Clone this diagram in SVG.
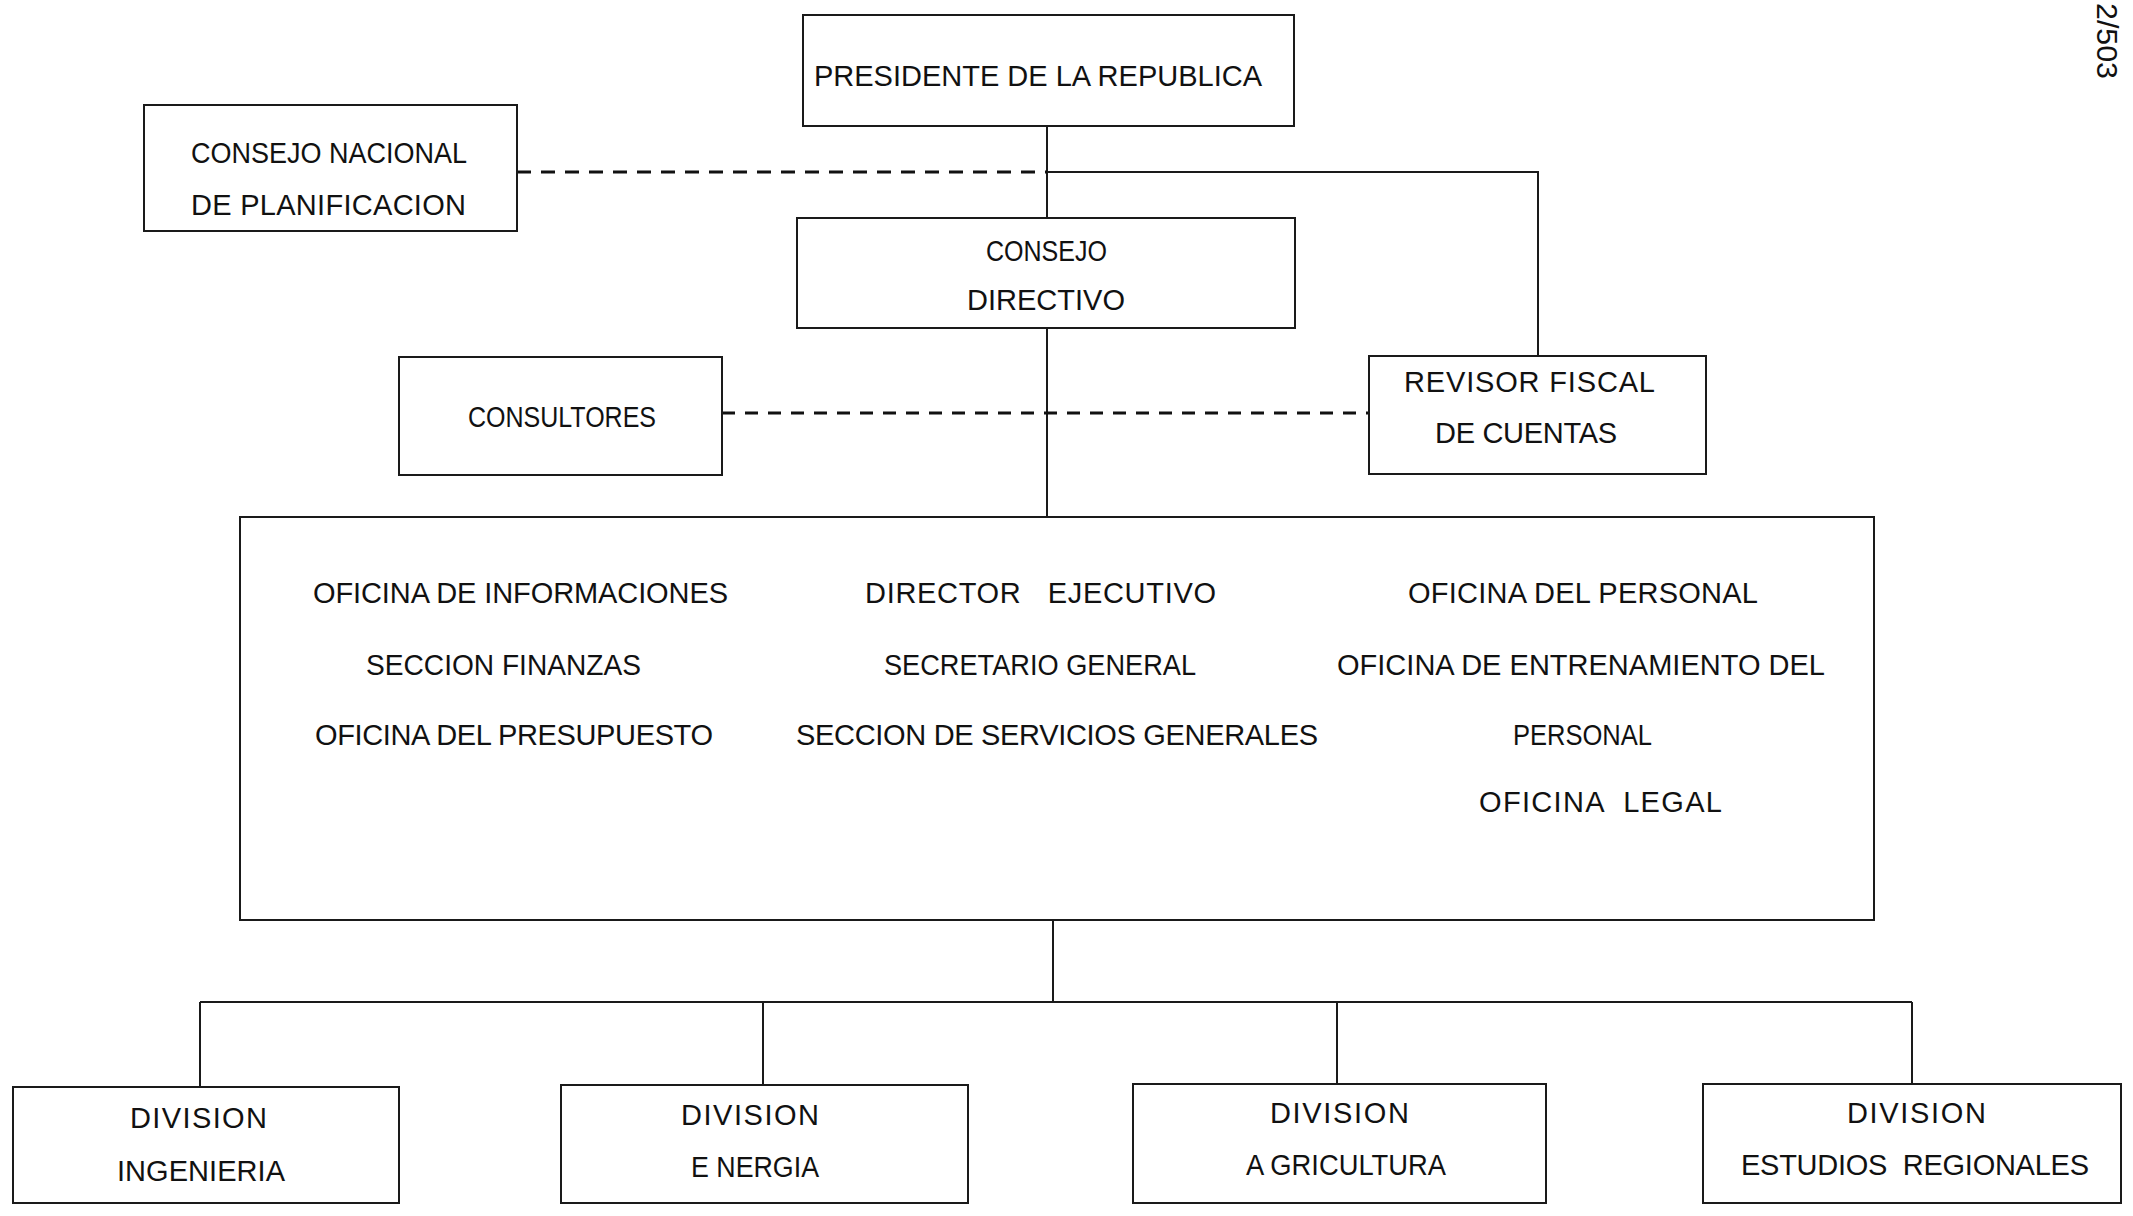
<svg xmlns="http://www.w3.org/2000/svg" width="2133" height="1216" viewBox="0 0 2133 1216">
<style>
  .box { fill: none; stroke: #1a1a1a; stroke-width: 2; }
  .ln { fill: none; stroke: #1a1a1a; stroke-width: 2; }
  .dash { fill: none; stroke: #111; stroke-width: 3; stroke-dasharray: 14 10; }
  text { font-family: "Liberation Sans", Arial, sans-serif; font-size: 29px; fill: #111; }
</style>
<rect x="0" y="0" width="2133" height="1216" fill="#fff"/>

<g id="connectors">
  <line class="ln" x1="1047" y1="126" x2="1047" y2="218"/>
  <line class="dash" x1="517" y1="172" x2="1047" y2="172"/>
  <polyline class="ln" points="1047,172 1538,172 1538,356"/>
  <line class="ln" x1="1047" y1="328" x2="1047" y2="517"/>
  <line class="dash" x1="722" y1="413" x2="1369" y2="413" style="stroke-dasharray:13 10"/>
  <line class="ln" x1="1053" y1="920" x2="1053" y2="1002"/>
  <line class="ln" x1="200" y1="1002" x2="1912" y2="1002"/>
  <line class="ln" x1="200" y1="1002" x2="200" y2="1087"/>
  <line class="ln" x1="763" y1="1002" x2="763" y2="1085"/>
  <line class="ln" x1="1337" y1="1002" x2="1337" y2="1084"/>
  <line class="ln" x1="1912" y1="1002" x2="1912" y2="1084"/>
</g>

<g id="presidente">
  <rect class="box" x="803" y="15" width="491" height="111"/>
  <text x="814" y="86" textLength="448">PRESIDENTE DE LA REPUBLICA</text>
</g>

<g id="consejo-nacional">
  <rect class="box" x="144" y="105" width="373" height="126"/>
  <text x="191" y="163" textLength="276" lengthAdjust="spacingAndGlyphs">CONSEJO NACIONAL</text>
  <text x="191" y="215" textLength="275">DE PLANIFICACION</text>
</g>

<g id="consejo-directivo">
  <rect class="box" x="797" y="218" width="498" height="110"/>
  <text x="986" y="261" textLength="121" lengthAdjust="spacingAndGlyphs">CONSEJO</text>
  <text x="967" y="310" textLength="158">DIRECTIVO</text>
</g>

<g id="consultores">
  <rect class="box" x="399" y="357" width="323" height="118"/>
  <text x="468" y="427" textLength="188" lengthAdjust="spacingAndGlyphs">CONSULTORES</text>
</g>

<g id="revisor-fiscal">
  <rect class="box" x="1369" y="356" width="337" height="118"/>
  <text x="1404" y="392" textLength="251">REVISOR FISCAL</text>
  <text x="1435" y="443" textLength="182">DE CUENTAS</text>
</g>

<g id="direccion">
  <rect class="box" x="240" y="517" width="1634" height="403"/>
  <text x="313" y="603" textLength="415">OFICINA DE INFORMACIONES</text>
  <text x="366" y="675" textLength="275" lengthAdjust="spacingAndGlyphs">SECCION FINANZAS</text>
  <text x="315" y="745" textLength="398">OFICINA DEL PRESUPUESTO</text>
  <text x="865" y="603" textLength="351" xml:space="preserve">DIRECTOR   EJECUTIVO</text>
  <text x="884" y="675" textLength="312" lengthAdjust="spacingAndGlyphs">SECRETARIO GENERAL</text>
  <text x="796" y="745" textLength="522">SECCION DE SERVICIOS GENERALES</text>
  <text x="1408" y="603" textLength="350">OFICINA DEL PERSONAL</text>
  <text x="1337" y="675" textLength="488">OFICINA DE ENTRENAMIENTO DEL</text>
  <text x="1513" y="745" textLength="139" lengthAdjust="spacingAndGlyphs">PERSONAL</text>
  <text x="1479" y="812" textLength="243" xml:space="preserve">OFICINA  LEGAL</text>
</g>

<g id="division-ingenieria">
  <rect class="box" x="13" y="1087" width="386" height="116"/>
  <text x="130" y="1128" textLength="137">DIVISION</text>
  <text x="117" y="1181" textLength="168">INGENIERIA</text>
</g>

<g id="division-energia">
  <rect class="box" x="561" y="1085" width="407" height="118"/>
  <text x="681" y="1125" textLength="138">DIVISION</text>
  <text x="691" y="1177" textLength="128" lengthAdjust="spacingAndGlyphs" xml:space="preserve">E NERGIA</text>
</g>

<g id="division-agricultura">
  <rect class="box" x="1133" y="1084" width="413" height="119"/>
  <text x="1270" y="1123" textLength="139">DIVISION</text>
  <text x="1246" y="1175" textLength="200" lengthAdjust="spacingAndGlyphs" xml:space="preserve">A GRICULTURA</text>
</g>

<g id="division-estudios">
  <rect class="box" x="1703" y="1084" width="418" height="119"/>
  <text x="1847" y="1123" textLength="139">DIVISION</text>
  <text x="1741" y="1175" textLength="348" xml:space="preserve">ESTUDIOS  REGIONALES</text>
</g>

<text transform="translate(2097,3) rotate(90)" x="0" y="0" textLength="76" lengthAdjust="spacingAndGlyphs" style="font-size:30px">2/503</text>
</svg>
